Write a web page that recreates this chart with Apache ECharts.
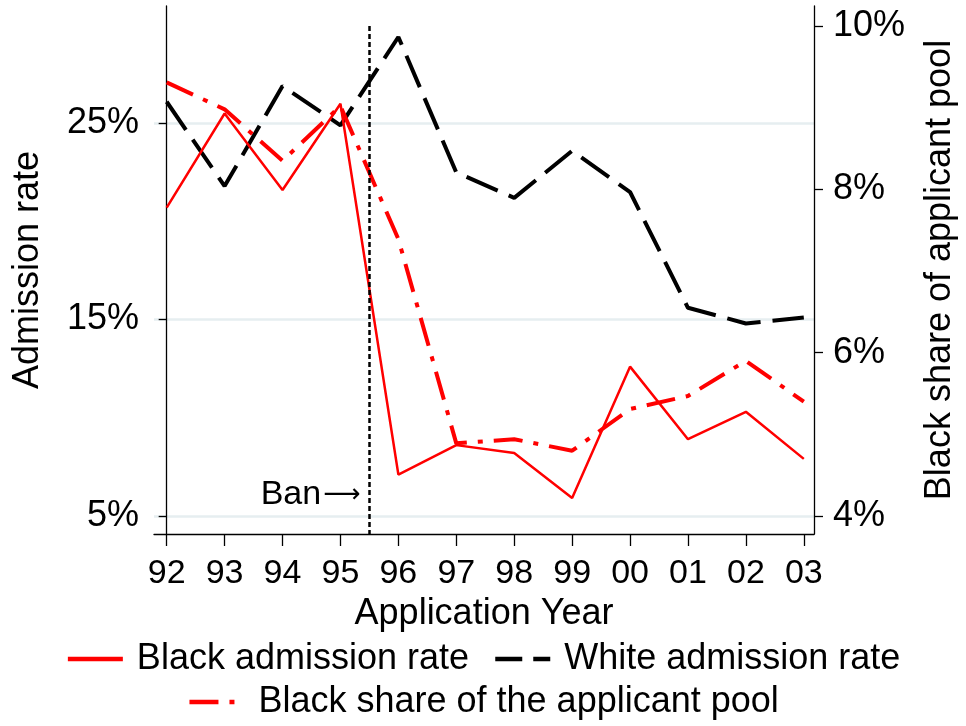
<!DOCTYPE html>
<html>
<head>
<meta charset="utf-8">
<script src="https://cdn.jsdelivr.net/npm/echarts@6/dist/echarts.min.js"></script>
<style>
html,body{margin:0;padding:0;background:#fff;}
#chart{width:966px;height:726px;}
</style>
</head>
<body>
<div id="chart"></div>
<script>
// ---- data ----
const years = ['92','93','94','95','96','97','98','99','00','01','02','03'];
const blackAdmission = [20.7, 25.5, 21.6, 26.0, 7.1, 8.6, 8.2, 5.9, 12.6, 8.9, 10.3, 7.9];
const whiteAdmission = [26.1, 21.8, 26.9, 24.9, 29.4, 22.5, 21.2, 23.6, 21.5, 15.6, 14.8, 15.1];
const blackShare = [9.31, 8.98, 8.35, 9.02, 7.39, 4.89, 4.94, 4.80, 5.31, 5.47, 5.90, 5.40];
const leftTicks = [5, 15, 25];
const rightTicks = [4, 6, 8, 10];
const banPosition = 3.5; // between 95 and 96
const banText = 'Ban';
const banArrow = '\u27F6';

const names = ['Black admission rate', 'White admission rate', 'Black share of the applicant pool'];
const FONT = 'Liberation Sans, Arial, Helvetica, sans-serif';
const LEFT_MIN = 4.07, LEFT_MAX = 30.98;
const RIGHT_MIN = 3.78, RIGHT_MAX = 10.245;

const pairs = arr => arr.map((v, i) => [i, v]);

const chart = echarts.init(document.getElementById('chart'), null, {renderer: 'canvas'});
const option = {
  animation: false,
  backgroundColor: '#fff',
  textStyle: {fontFamily: FONT},
  grid: {left: 154, right: 150, top: 6, bottom: 192, containLabel: false},
  legend: [
    {
      data: [
        {name: names[0], lineStyle: {width: 4.5, type: 'solid'}},
        {name: names[1], lineStyle: {width: 4.5, type: [27, 11]}}
      ],
      left: 'center', top: 641, padding: 0,
      itemWidth: 55, itemHeight: 14, itemGap: 24,
      itemStyle: {opacity: 0},
      textStyle: {fontSize: 36, color: '#000', fontFamily: FONT, padding: [0, 0, 0, 9]},
      selectedMode: false
    },
    {
      data: [
        {name: names[2], lineStyle: {width: 4.5, type: [29, 11, 5, 11]}}
      ],
      left: 'center', top: 684, padding: 0,
      itemWidth: 55, itemHeight: 14,
      itemStyle: {opacity: 0},
      textStyle: {fontSize: 36, color: '#000', fontFamily: FONT, padding: [0, 0, 0, 9]},
      selectedMode: false
    }
  ],
  xAxis: {
    type: 'value',
    min: -0.219, max: 11.176,
    name: 'Application Year',
    nameLocation: 'middle', nameGap: 54,
    nameTextStyle: {fontSize: 36, color: '#000', fontFamily: FONT},
    axisLine: {show: true, lineStyle: {color: '#000', width: 1.3}},
    axisTick: {show: true, length: 12, inside: false, customValues: years.map((y, i) => i), lineStyle: {color: '#000', width: 1.3}},
    axisLabel: {show: true, customValues: years.map((y, i) => i), formatter: v => years[Math.round(v)], fontSize: 34, color: '#000', margin: 23, fontFamily: FONT},
    splitLine: {show: false}
  },
  yAxis: [
    {
      type: 'value', position: 'left',
      min: LEFT_MIN, max: LEFT_MAX,
      name: 'Admission rate', nameLocation: 'middle', nameGap: 108, nameRotate: 90,
      nameTextStyle: {fontSize: 36, color: '#000', fontFamily: FONT},
      axisLine: {show: true, lineStyle: {color: '#000', width: 1.3}},
      axisTick: {show: true, length: 8, inside: false, customValues: leftTicks, lineStyle: {color: '#000', width: 1.3}},
      axisLabel: {show: true, customValues: leftTicks, formatter: v => v + '%', fontSize: 36, color: '#000', margin: 15, fontFamily: FONT},
      splitLine: {show: true, lineStyle: {color: '#e6eef0', width: 2.5}}
    },
    {
      type: 'value', position: 'right',
      min: RIGHT_MIN, max: RIGHT_MAX,
      name: 'Black share of applicant pool', nameLocation: 'middle', nameGap: 108, nameRotate: 90,
      nameTextStyle: {fontSize: 36, color: '#000', fontFamily: FONT},
      axisLine: {show: true, lineStyle: {color: '#000', width: 1.3}},
      axisTick: {show: true, length: 9, inside: false, customValues: rightTicks, lineStyle: {color: '#000', width: 1.3}},
      axisLabel: {show: true, customValues: rightTicks, formatter: v => v + '%', fontSize: 36, color: '#000', margin: 19, fontFamily: FONT},
      splitLine: {show: false}
    }
  ],
  series: [
    {
      name: names[0], type: 'line', yAxisIndex: 0,
      data: pairs(blackAdmission),
      symbol: 'none', color: '#ff0000',
      lineStyle: {color: '#ff0000', width: 2.5, type: 'solid'},
      z: 3
    },
    {
      name: names[1], type: 'line', yAxisIndex: 0,
      data: pairs(whiteAdmission),
      symbol: 'none', color: '#000000',
      lineStyle: {color: '#000000', width: 4, type: [34, 12]},
      z: 2
    },
    {
      name: names[2], type: 'line', yAxisIndex: 1,
      data: pairs(blackShare),
      symbol: 'none', color: '#ff0000',
      lineStyle: {color: '#ff0000', width: 4, type: [29, 11, 5, 11]},
      z: 4,
      markLine: {
        silent: true, symbol: ['none', 'none'],
        label: {show: false},
        lineStyle: {color: '#000', width: 2.5, type: [5, 3]},
        data: [[{coord: [banPosition, 10]}, {coord: [banPosition, RIGHT_MIN]}]]
      },
      markPoint: {
        silent: true,
        symbol: 'circle', symbolSize: 0,
        data: [{coord: [banPosition, 4.26]}],
        label: {
          show: true, position: 'left', distance: 9,
          formatter: '{a|' + banText + '}{b|' + banArrow + '}',
          rich: {
            a: {color: '#000', fontSize: 34, fontFamily: FONT},
            b: {color: '#000', fontSize: 26, fontFamily: 'DejaVu Sans', padding: [0, 0, 0, 2]}
          }
        }
      }
    }
  ]
};
chart.setOption(option);
</script>
</body>
</html>
